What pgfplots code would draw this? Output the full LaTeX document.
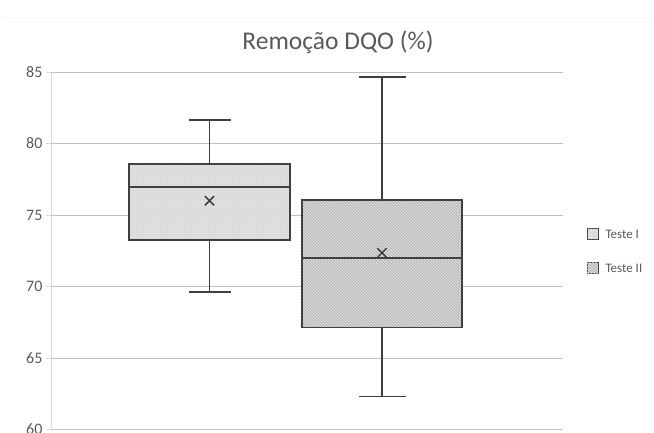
\documentclass[border=0pt]{standalone}
\usepackage{pgfplots}
\pgfplotsset{compat=1.18}
\usetikzlibrary{patterns}
\usepackage{fontspec}
\setmainfont{Carlito}
\definecolor{txt}{HTML}{595959}
\definecolor{grid}{HTML}{D9D9D9}
\definecolor{edge}{HTML}{404040}
\begin{document}
\begin{tikzpicture}[x=1pt,y=1pt]
\path[use as bounding box] (-51,-2.5) rectangle (603,429.5);
\draw[black!4, line width=1pt] (-49,411.5) -- (603,411.5);
\begin{axis}[
  at={(0,0)}, anchor=south west,
  width=512pt, height=357.5pt, scale only axis,
  xmin=51, xmax=563, ymin=60, ymax=85,
  ytick={60,65,...,85},
  xtick=\empty,
  ymajorgrids, grid style={grid, line width=0.8pt},
  axis x line=none,
  axis y line*=left,
  y axis line style={grid, line width=0.8pt, -},
  ytick style={grid, line width=0.8pt},
  tick align=outside, major tick length=5pt,
  yticklabel style={text=txt, font=\fontsize{16}{18}\selectfont},
  /pgf/number format/assume math mode=true,
  clip=false,
]
% ---- Teste I ----
\addplot[edge, line width=1.5pt] coordinates {(209.5,78.55) (209.5,81.65)};
\addplot[edge, line width=1.5pt] coordinates {(188.5,81.65) (230.5,81.65)};
\addplot[edge, line width=1.5pt] coordinates {(209.5,73.25) (209.5,69.6)};
\addplot[edge, line width=1.5pt] coordinates {(188.5,69.6) (230.5,69.6)};
\addplot[draw=edge, line width=1.5pt, fill=gray!28, postaction={pattern=dots, pattern color=white}]
  coordinates {(129,73.25) (290,73.25) (290,78.55) (129,78.55)} -- cycle;
\addplot[edge, line width=1.5pt] coordinates {(129,76.95) (290,76.95)};
\addplot[only marks, mark=x, mark size=6.5pt, mark options={draw=edge, line width=1.5pt}] coordinates {(209.5,76.0)};
% ---- Teste II ----
\addplot[edge, line width=1.5pt] coordinates {(382,76.05) (382,84.65)};
\addplot[edge, line width=1.5pt] coordinates {(358.5,84.65) (405.5,84.65)};
\addplot[edge, line width=1.5pt] coordinates {(382,67.15) (382,62.3)};
\addplot[edge, line width=1.5pt] coordinates {(358.5,62.3) (405.5,62.3)};
\addplot[draw=edge, line width=1.5pt, fill=gray!55, postaction={pattern=north west lines, pattern color=white!85!gray}]
  coordinates {(302,67.15) (462,67.15) (462,76.05) (302,76.05)} -- cycle;
\addplot[edge, line width=1.5pt] coordinates {(302,72.0) (462,72.0)};
\addplot[only marks, mark=x, mark size=6.5pt, mark options={draw=edge, line width=1.5pt}] coordinates {(382,72.35)};
\end{axis}
\node[text=txt, font=\fontsize{25.5}{30}\selectfont] at (287,387.5) {Remoção DQO (\%)};
\draw[edge, line width=1pt, fill=gray!28, postaction={pattern=dots, pattern color=white}] (536,189.5) rectangle (547,200.5);
\node[anchor=west, text=txt, font=\fontsize{13}{15}\selectfont] at (551,195) {Teste I};
\draw[edge, line width=1pt, fill=gray!55, postaction={pattern=north west lines, pattern color=white!85!gray}] (536,156) rectangle (547,167);
\node[anchor=west, text=txt, font=\fontsize{13}{15}\selectfont] at (551,161.5) {Teste II};
\end{tikzpicture}
\end{document}
